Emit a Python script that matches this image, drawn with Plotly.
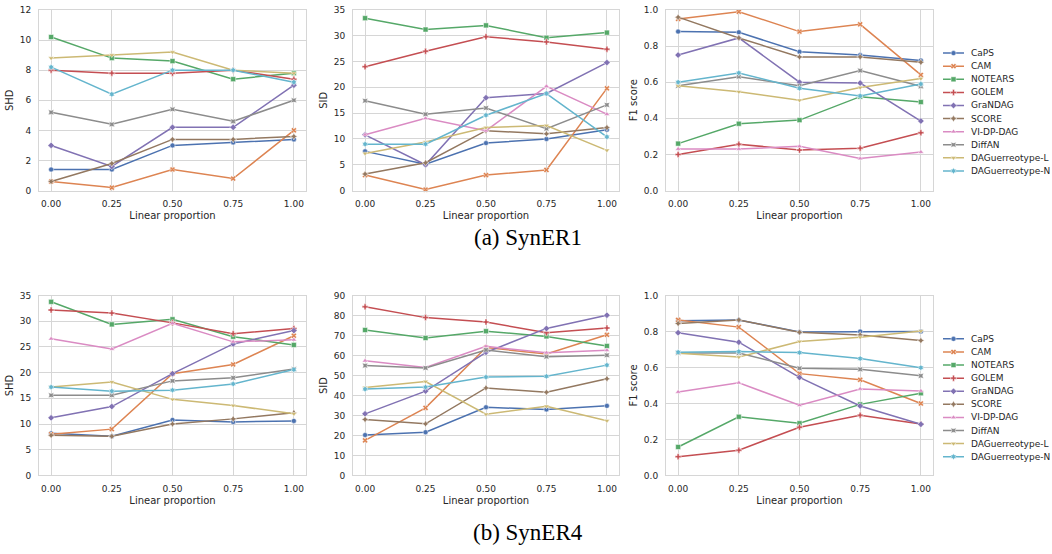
import plotly.graph_objects as go

W, H = 1052, 554

methods = ["CaPS", "CAM", "NOTEARS", "GOLEM", "GraNDAG", "SCORE",
           "VI-DP-DAG", "DiffAN", "DAGuerreotype-L", "DAGuerreotype-N"]
colors = ["#4C72B0", "#DD8452", "#55A868", "#C44E52", "#8172B3", "#937860",
          "#DA8BC3", "#8C8C8C", "#CCB974", "#64B5CD"]
symbols = ["circle", "x", "square", "cross", "diamond", "star-diamond",
           "triangle-up", "star-square", "triangle-down", "hexagram"]
linear_proportion = [0.0, 0.25, 0.5, 0.75, 1.0]
x_ticks = [0.0, 0.25, 0.5, 0.75, 1.0]

# ---- SynER1 (rows follow `methods` order) ----
er1_shd = [
    [1.4, 1.4, 3.0, 3.2, 3.4],
    [0.6, 0.2, 1.4, 0.8, 4.0],
    [10.2, 8.8, 8.6, 7.4, 7.8],
    [8.0, 7.8, 7.8, 8.0, 7.4],
    [3.0, 1.6, 4.2, 4.2, 7.0],
    [0.6, 1.8, 3.4, 3.4, 3.6],
    None,
    [5.2, 4.4, 5.4, 4.6, 6.0],
    [8.8, 9.0, 9.2, 8.0, 7.8],
    [8.2, 6.4, 8.0, 8.0, 7.2],
]
er1_sid = [
    [7.6, 5.1, 9.2, 10.0, 11.8],
    [3.0, 0.2, 3.0, 4.0, 19.8],
    [33.4, 31.2, 32.0, 29.6, 30.6],
    [24.0, 27.0, 29.8, 28.8, 27.4],
    [10.8, 5.0, 18.0, 18.8, 24.8],
    [3.2, 5.4, 11.6, 11.0, 12.2],
    [10.8, 14.0, 11.6, 20.2, 14.8],
    [17.4, 14.8, 16.0, 12.0, 16.6],
    [7.2, 9.4, 12.2, 12.6, 7.8],
    [9.0, 9.0, 14.6, 18.8, 10.4],
]
er1_f1 = [
    [0.88, 0.876, 0.768, 0.75, 0.72],
    [0.95, 0.99, 0.88, 0.92, 0.64],
    [0.26, 0.37, 0.39, 0.52, 0.49],
    [0.20, 0.257, 0.224, 0.235, 0.32],
    [0.75, 0.845, 0.60, 0.595, 0.385],
    [0.96, 0.845, 0.74, 0.74, 0.71],
    [0.23, 0.23, 0.245, 0.177, 0.213],
    [0.58, 0.63, 0.58, 0.664, 0.577],
    [0.58, 0.547, 0.50, 0.57, 0.62],
    [0.60, 0.651, 0.566, 0.524, 0.59],
]

# ---- SynER4 ----
er4_shd = [
    [8.2, 7.6, 10.8, 10.4, 10.6],
    [8.0, 9.0, 19.8, 21.6, 27.2],
    [33.8, 29.4, 30.4, 27.0, 25.4],
    [32.2, 31.6, 29.7, 27.6, 28.6],
    [11.2, 13.4, 19.8, 25.6, 28.2],
    [7.8, 7.6, 10.0, 11.0, 12.2],
    [26.6, 24.6, 29.6, 26.0, 26.4],
    [15.6, 15.6, 18.4, 19.0, 20.7],
    [17.2, 18.2, 14.8, 13.6, 12.0],
    [17.2, 16.4, 16.6, 17.8, 20.6],
]
er4_sid = [
    [20.2, 21.6, 34.1, 33.0, 34.8],
    [17.5, 33.8, 64.0, 60.8, 70.4],
    [72.8, 68.8, 72.2, 69.6, 64.8],
    [84.4, 79.0, 76.8, 71.4, 73.8],
    [30.8, 42.2, 61.6, 73.6, 80.2],
    [28.0, 25.8, 43.8, 41.6, 48.4],
    [57.4, 54.0, 64.6, 61.4, 62.6],
    [55.0, 53.8, 62.8, 59.4, 60.2],
    [44.0, 47.0, 30.6, 34.6, 27.4],
    [43.2, 44.2, 49.2, 49.6, 55.2],
]
er4_f1 = [
    [0.86, 0.865, 0.798, 0.80, 0.80],
    [0.865, 0.825, 0.566, 0.532, 0.40],
    [0.158, 0.326, 0.29, 0.395, 0.457],
    [0.104, 0.14, 0.268, 0.335, 0.286],
    [0.794, 0.741, 0.545, 0.386, 0.284],
    [0.845, 0.865, 0.796, 0.781, 0.75],
    [0.464, 0.515, 0.39, 0.481, 0.47],
    [0.681, 0.681, 0.596, 0.59, 0.554],
    [0.679, 0.658, 0.745, 0.769, 0.803],
    [0.685, 0.689, 0.683, 0.65, 0.599],
]

captions = ["(a) SynER1", "(b) SynER4"]
y_titles = ["SHD", "SID", "F1 score"]
x_title = "Linear proportion"

panels = [
    (er1_shd, 0, 0, [0, 12], 2, ".0f"),
    (er1_sid, 0, 1, [0, 35], 5, ".0f"),
    (er1_f1, 0, 2, [0, 1], 0.2, ".1f"),
    (er4_shd, 1, 0, [0, 35], 5, ".0f"),
    (er4_sid, 1, 1, [0, 90], 10, ".0f"),
    (er4_f1, 1, 2, [0, 1], 0.2, ".1f"),
]

# ---- layout geometry (pixels) ----
col_px = [(39, 306), (353, 619), (666, 933)]
row_px = [(5, 189), (296, 479)]
legend_rows = [(49, 169), (340, 460)]
caption_y = [237, 537]


def px_x(a, b):
    return [a / W, b / W]


def px_y(top, bottom):
    return [1 - bottom / H, 1 - top / H]


TEXT = "#262626"
GRID = "#D6D6D6"
FONT = "DejaVu Sans"
MSIZE = 5

fig = go.Figure()
layout = dict(
    width=W, height=H,
    margin=dict(l=0, r=0, t=0, b=0),
    paper_bgcolor="white", plot_bgcolor="white",
    showlegend=False,
    font=dict(family=FONT, size=9, color=TEXT),
)
annotations = []

for k, (data, r, c, yr, dt, fmt) in enumerate(panels):
    idx = k + 1
    xa = "x" if idx == 1 else f"x{idx}"
    ya = "y" if idx == 1 else f"y{idx}"
    for i, m in enumerate(methods):
        vals = data[i]
        if vals is None:
            continue
        fig.add_trace(go.Scatter(
            x=linear_proportion, y=vals, name=m, mode="lines+markers",
            line=dict(color=colors[i], width=1.5),
            marker=dict(symbol=symbols[i], size=MSIZE, color=colors[i],
                        line=dict(color="white", width=0.5)),
            xaxis=xa, yaxis=ya, legendgroup=m, cliponaxis=False,
        ))
    axis_common = dict(
        showgrid=True, gridcolor=GRID, gridwidth=1,
        showline=True, linecolor=GRID, linewidth=1, mirror=True,
        zeroline=False, ticks="", ticklabelstandoff=5,
        tickfont=dict(family=FONT, size=9, color=TEXT),
    )
    layout["xaxis" if idx == 1 else f"xaxis{idx}"] = dict(
        axis_common, domain=px_x(*col_px[c]), range=[-0.05, 1.05],
        tickvals=x_ticks, tickformat=".2f", anchor=ya,
        title=dict(text=x_title, font=dict(family=FONT, size=10, color=TEXT), standoff=3),
    )
    layout["yaxis" if idx == 1 else f"yaxis{idx}"] = dict(
        axis_common, domain=px_y(*row_px[r]), range=yr, dtick=dt, tick0=0,
        tickformat=fmt, anchor=xa,
        title=dict(text=y_titles[c], font=dict(family=FONT, size=10, color=TEXT), standoff=4),
    )

# ---- legends (one per row), drawn on hidden helper axes ----
for r in range(2):
    idx = 7 + r
    xa, ya = f"x{idx}", f"y{idx}"
    top, bottom = legend_rows[r]
    step = (bottom - top) / (len(methods) - 1)
    for i, m in enumerate(methods):
        fig.add_trace(go.Scatter(
            x=[0, 1], y=[i, i], mode="lines", line=dict(color=colors[i], width=1.5),
            xaxis=xa, yaxis=ya, hoverinfo="skip", showlegend=False,
        ))
        fig.add_trace(go.Scatter(
            x=[0.5], y=[i], mode="markers",
            marker=dict(symbol=symbols[i], size=MSIZE, color=colors[i],
                        line=dict(color="white", width=0.5)),
            xaxis=xa, yaxis=ya, hoverinfo="skip", showlegend=False, cliponaxis=False,
        ))
        annotations.append(dict(
            text=m, x=969 / W, xref="paper", xanchor="left",
            y=i, yref=ya, yanchor="middle", showarrow=False,
            font=dict(family=FONT, size=9, color=TEXT),
        ))
    layout[f"xaxis{idx}"] = dict(domain=px_x(943, 964), range=[0, 1], visible=False,
                                 anchor=ya, fixedrange=True)
    layout[f"yaxis{idx}"] = dict(domain=px_y(top - step / 2, bottom + step / 2),
                                 range=[len(methods) - 0.5, -0.5], visible=False,
                                 anchor=xa, fixedrange=True)

# ---- captions ----
for r in range(2):
    annotations.append(dict(
        text=captions[r], x=528 / W, xref="paper", xanchor="center",
        y=1 - caption_y[r] / H, yref="paper", yanchor="middle", showarrow=False,
        font=dict(family="Liberation Serif", size=23, color="black"),
    ))

layout["annotations"] = annotations
fig.update_layout(**layout)
fig.write_html("out.html", config={"displayModeBar": False},
               post_script="document.body.style.margin='0px';")
